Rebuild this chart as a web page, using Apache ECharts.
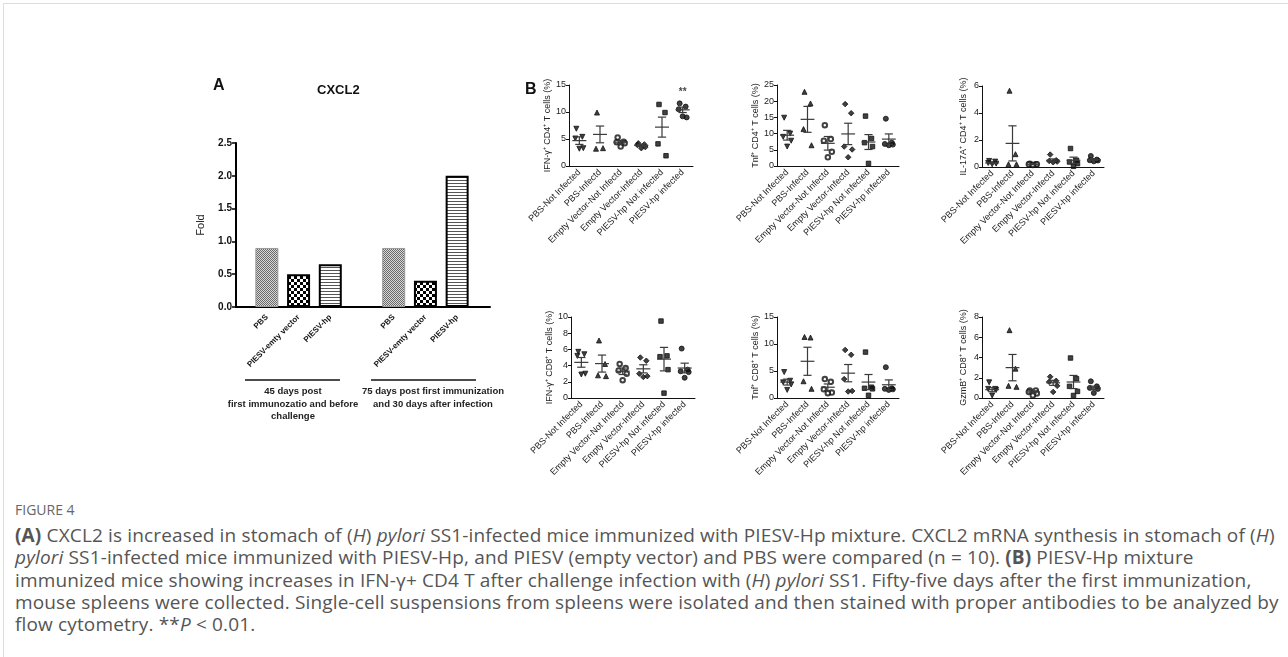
<!DOCTYPE html>
<html>
<head>
<meta charset="utf-8">
<script src="https://cdn.jsdelivr.net/npm/echarts@6/dist/echarts.min.js"></script>
<style>
  body { margin: 0; background: #fff; }
  #frame { position: absolute; left: 3px; top: 3px; width: 1290px; height: 660px; border-left: 1px solid #ddd; border-top: 1px solid #ddd; }
  #chart { position: absolute; left: 0; top: 0; width: 1288px; height: 495px; }
  #caption { position: absolute; left: 15px; top: 502px; width: 1268px; color: #555; font-family: "Open Sans", sans-serif; }
  #caption .fig { font-size: 14px; color: #666; line-height: 16px; }
  #caption .txt { font-size: 19px; letter-spacing: 0.15px; line-height: 22.3px; white-space: nowrap; margin-top: 6px; }
</style>
</head>
<body>
<div id="frame"></div>
<div id="chart"></div>
<div id="caption">
  <div class="fig">FIGURE 4</div>
  <div class="txt"><b>(A)</b> CXCL2 is increased in stomach of (<i>H</i>) <i>pylori</i> SS1-infected mice immunized with PIESV-Hp mixture. CXCL2 mRNA synthesis in stomach of (<i>H</i>)<br>
  <i>pylori</i> SS1-infected mice immunized with PIESV-Hp, and PIESV (empty vector) and PBS were compared (n = 10). <b>(B)</b> PIESV-Hp mixture<br>
  immunized mice showing increases in IFN-γ+ CD4 T after challenge infection with (<i>H</i>) <i>pylori</i> SS1. Fifty-five days after the first immunization,<br>
  mouse spleens were collected. Single-cell suspensions from spleens were isolated and then stained with proper antibodies to be analyzed by<br>
  flow cytometry. **<i>P</i> &lt; 0.01.</div>
</div>
<script>
// panel A data
var treatmentsA = ['PBS', 'PIESV-emty vector', 'PIESV-hp'];
var fold45 = [0.9, 0.5, 0.65];
var fold75 = [0.9, 0.4, 2.0];

// panel B data
var groupsB = ['PBS-Not Infected', 'PBS-Infectd', 'Empty Vector-Not Infectd', 'Empty Vector-Infectd', 'PIESV-hp Not infected', 'PIESV-hp infected'];

var ifngCd4 = [[6.9, 5.4, 5.1, 3.3, 3.2], [9.9, 3.3, 3.2], [5.3, 4.5, 4.4, 4.2, 3.6], [4.2, 4.0, 3.9, 3.5, 3.3], [11.4, 9.9, 4.1, 1.9], [11.6, 11.0, 10.5, 9.0, 9.2]];
var ifngCd4Mean = [4.7, 5.85, 4.4, 3.8, 7.2, 10.4];
var ifngCd4Sem = [0.7, 1.55, 0.3, 0.2, 1.85, 0.5];

var tnfCd4 = [[14.9, 10.0, 9.0, 7.8, 6.0], [22.9, 19.3, 11.4, 6.4], [12.6, 8.3, 7.8, 4.4, 2.7], [19.1, 16.3, 6.0, 5.1, 2.7], [15.4, 8.5, 7.2, 6.0, 0.8], [14.6, 7.2, 6.8, 6.6, 6.4]];
var tnfCd4Mean = [9.5, 14.4, 7.0, 9.9, 7.4, 8.3];
var tnfCd4Sem = [1.5, 4.0, 2.1, 3.3, 2.3, 1.6];

var il17Cd4 = [[0.45, 0.4, 0.3, 0.25, 0.2], [5.65, 0.95, 0.2, 0.2], [0.25, 0.2, 0.2, 0.2, 0.15], [0.92, 0.5, 0.45, 0.4, 0.35], [1.37, 0.5, 0.37, 0.25, 0.05], [0.82, 0.55, 0.5, 0.48, 0.42]];
var il17Cd4Mean = [0.3, 1.75, 0.2, 0.5, 0.5, 0.55];
var il17Cd4Sem = [0.05, 1.3, 0.02, 0.1, 0.23, 0.07];

var ifngCd8 = [[5.7, 5.4, 5.2, 3.0, 2.9], [7.1, 4.2, 2.8, 2.7], [4.2, 3.7, 3.4, 3.0, 2.2], [5.0, 4.6, 3.0, 2.7, 2.6], [9.5, 5.2, 5.1, 3.5, 0.6], [6.1, 3.5, 3.3, 3.2, 2.5]];
var ifngCd8Mean = [4.4, 4.25, 3.3, 3.6, 4.8, 3.7];
var ifngCd8Sem = [0.6, 1.05, 0.4, 0.5, 1.45, 0.6];

var tnfCd8 = [[4.8, 3.2, 2.9, 2.5, 1.5], [11.3, 11.2, 3.1, 1.7], [3.5, 3.0, 1.6, 1.0, 0.9], [8.9, 8.0, 3.5, 1.3, 1.2], [8.5, 2.0, 1.8, 1.7, 0.5], [5.7, 1.8, 1.7, 1.6, 1.5]];
var tnfCd8Mean = [2.95, 6.8, 2.0, 4.6, 2.95, 2.45];
var tnfCd8Sem = [0.55, 2.6, 0.6, 1.6, 1.4, 0.9];

var gzmbCd8 = [[1.55, 0.9, 0.9, 0.8, 0.25], [6.7, 2.9, 1.2, 1.1], [0.75, 0.75, 0.6, 0.45, 0.25], [2.1, 1.7, 1.6, 1.2, 0.6], [3.95, 1.9, 1.15, 0.65, 0.25], [1.65, 1.15, 1.0, 0.9, 0.5]];
var gzmbCd8Mean = [0.82, 3.0, 0.6, 1.5, 1.58, 1.0];
var gzmbCd8Sem = [0.2, 1.3, 0.1, 0.25, 0.65, 0.17];

// ** over PIESV-hp infected in IFN-g CD4
var sigMark = [[5, 13.6]];

var chart = echarts.init(document.getElementById('chart'));
var FONT = 'Liberation Sans';

// fill patterns
function pattern(w, h, draw) {
    var c = document.createElement('canvas');
    c.width = w; c.height = h;
    draw(c.getContext('2d'));
    return {image: c, repeat: 'repeat'};
}
var fillPbs = pattern(2, 2, function (g) {
    g.fillStyle = '#d8d8d8'; g.fillRect(0, 0, 2, 2);
    g.fillStyle = '#6a6a6a'; g.fillRect(0, 0, 1, 1); g.fillRect(1, 1, 1, 1);
});
var fillVector = pattern(6, 6, function (g) {
    g.fillStyle = '#fff'; g.fillRect(0, 0, 6, 6);
    g.fillStyle = '#000'; g.fillRect(0, 0, 3, 3); g.fillRect(3, 3, 3, 3);
});
var fillHp = pattern(1, 3, function (g) {
    g.fillStyle = '#fff'; g.fillRect(0, 0, 1, 3);
    g.fillStyle = '#555'; g.fillRect(0, 0, 1, 1);
});
var fillsA = [
    {color: fillPbs, borderColor: '#999', borderWidth: 1},
    {color: fillVector, borderColor: '#000', borderWidth: 2},
    {color: fillHp, borderColor: '#000', borderWidth: 2}
];

var catsA = treatmentsA.concat([''], treatmentsA);
var valsA = fold45.concat([null], fold75);
var barData = valsA.map(function (v, i) {
    return {value: v, itemStyle: fillsA[i % 4 === 3 ? 0 : (i > 3 ? i - 4 : i)]};
});

// panel B layout
var panels = [
    {pts: ifngCd4, mean: ifngCd4Mean, sem: ifngCd4Sem, max: 15, step: 5, name: 'IFN-γ⁺ CD4⁺ T cells (%)', left: 569, top: 85, width: 124},
    {pts: tnfCd4, mean: tnfCd4Mean, sem: tnfCd4Sem, max: 25, step: 5, name: 'Tnf⁺ CD4⁺ T cells (%)', left: 777, top: 85, width: 122},
    {pts: il17Cd4, mean: il17Cd4Mean, sem: il17Cd4Sem, max: 6, step: 2, name: 'IL-17A⁺ CD4⁺ T cells (%)', left: 982, top: 86, width: 122},
    {pts: ifngCd8, mean: ifngCd8Mean, sem: ifngCd8Sem, max: 10, step: 2, name: 'IFN-γ⁺ CD8⁺ T cells (%)', left: 571, top: 317, width: 124},
    {pts: tnfCd8, mean: tnfCd8Mean, sem: tnfCd8Sem, max: 15, step: 5, name: 'Tnf⁺ CD8⁺ T cells (%)', left: 777, top: 317, width: 122},
    {pts: gzmbCd8, mean: gzmbCd8Mean, sem: gzmbCd8Sem, max: 8, step: 2, name: 'GzmB⁺ CD8⁺ T cells (%)', left: 982, top: 317, width: 122}
];
var symbolsB = [
    {symbol: 'triangle', rotate: 180, size: 5},
    {symbol: 'triangle', rotate: 0, size: 5},
    {symbol: 'emptyCircle', rotate: 0, size: 4.5},
    {symbol: 'diamond', rotate: 0, size: 5.5},
    {symbol: 'rect', rotate: 0, size: 4.5},
    {symbol: 'circle', rotate: 0, size: 5}
];
var jitter = [-3, 3, -4, 4, 0];

function meanSemItem(params, api) {
    var x = api.value(0), m = api.value(1), s = api.value(2);
    var c = api.coord([x, m]);
    var top = api.coord([x, m + s]);
    var bot = api.coord([x, m - s]);
    var w = api.size([1, 0])[0];
    var st = {stroke: '#3a3a3a', lineWidth: 1.2};
    return {type: 'group', children: [
        {type: 'line', shape: {x1: c[0] - w * 0.34, y1: c[1], x2: c[0] + w * 0.34, y2: c[1]}, style: st},
        {type: 'line', shape: {x1: c[0], y1: top[1], x2: c[0], y2: bot[1]}, style: st},
        {type: 'line', shape: {x1: c[0] - w * 0.2, y1: top[1], x2: c[0] + w * 0.2, y2: top[1]}, style: st},
        {type: 'line', shape: {x1: c[0] - w * 0.2, y1: bot[1], x2: c[0] + w * 0.2, y2: bot[1]}, style: st}
    ]};
}

var grids = [
    {left: 236, top: 143, width: 254, height: 164},
    {left: 251, top: 143, width: 222, height: 164}
];
var xAxes = [
    {gridIndex: 0, type: 'value', min: 0, max: 1, axisLabel: {show: false}, axisTick: {show: false}, splitLine: {show: false},
     axisLine: {lineStyle: {color: '#000', width: 2}}},
    {gridIndex: 1, type: 'category', data: catsA, axisLine: {show: false}, axisTick: {show: false},
     axisLabel: {rotate: 45, fontSize: 8, fontWeight: 'bold', fontFamily: FONT, color: '#111', margin: 9, interval: 0}}
];
var yAxes = [
    {gridIndex: 0, type: 'value', min: 0, max: 2.5, interval: 0.5, name: 'Fold', nameLocation: 'middle', nameGap: 30,
     nameTextStyle: {fontSize: 11, fontFamily: FONT, color: '#222'},
     axisLine: {show: true, lineStyle: {color: '#000', width: 2}},
     axisTick: {show: true, length: 4, lineStyle: {color: '#000', width: 1.5}},
     axisLabel: {fontSize: 10, fontWeight: 'bold', fontFamily: FONT, color: '#111', margin: 4, formatter: function (v) { return v.toFixed(1); }},
     splitLine: {show: false}},
    {gridIndex: 1, type: 'value', min: 0, max: 2.5, show: false}
];
var series = [
    {type: 'bar', xAxisIndex: 1, yAxisIndex: 1, barWidth: 23, data: barData, silent: true}
];

panels.forEach(function (p, k) {
    var gi = k + 2;
    grids.push({left: p.left, top: p.top, width: p.width, height: 81});
    xAxes.push({gridIndex: gi, type: 'category', data: groupsB,
        axisLine: {lineStyle: {color: '#111', width: 1}},
        axisTick: {alignWithLabel: true, length: 3, lineStyle: {color: '#111'}},
        axisLabel: {rotate: 45, fontSize: 9, fontFamily: FONT, color: '#222', margin: 5, interval: 0}});
    yAxes.push({gridIndex: gi, type: 'value', min: 0, max: p.max, interval: p.step,
        name: p.name, nameLocation: 'middle', nameGap: 14,
        nameTextStyle: {fontSize: 9, fontFamily: FONT, color: '#222'},
        axisLine: {show: true, lineStyle: {color: '#111', width: 1}},
        axisTick: {show: true, length: 3, lineStyle: {color: '#111'}},
        axisLabel: {fontSize: 9, fontFamily: FONT, color: '#222', margin: 3},
        splitLine: {show: false}});
    var pts = [];
    p.pts.forEach(function (grp, g) {
        var sym = symbolsB[g];
        grp.forEach(function (v, j) {
            pts.push({value: [g, v], symbol: sym.symbol, symbolRotate: sym.rotate, symbolSize: sym.size,
                symbolOffset: [jitter[j], 0]});
        });
    });
    series.push({type: 'scatter', xAxisIndex: gi, yAxisIndex: gi, data: pts, silent: true,
        itemStyle: {color: '#111', borderColor: '#111', borderWidth: 1}});
    series.push({type: 'custom', xAxisIndex: gi, yAxisIndex: gi, renderItem: meanSemItem, silent: true, z: 3,
        data: p.mean.map(function (m, g) { return [g, m, p.sem[g]]; })});
});

series.push({type: 'scatter', xAxisIndex: 2, yAxisIndex: 2, data: sigMark, symbolSize: 0, silent: true,
    label: {show: true, formatter: '**', position: 'inside', fontSize: 10, fontWeight: 'bold', color: '#111', fontFamily: FONT}});

var boldTxt = {fontFamily: FONT, fontWeight: 'bold', fontSize: 9.5, fill: '#222', textAlign: 'center'};
var option = {
    animation: false,
    grid: grids,
    xAxis: xAxes,
    yAxis: yAxes,
    series: series,
    graphic: [
        {type: 'text', left: 213, top: 78, style: {text: 'A', fontFamily: FONT, fontWeight: 'bold', fontSize: 16, fill: '#111'}},
        {type: 'text', left: 317, top: 84, style: {text: 'CXCL2', fontFamily: FONT, fontWeight: 'bold', fontSize: 13, fill: '#111'}},
        {type: 'text', left: 525, top: 82, style: {text: 'B', fontFamily: FONT, fontWeight: 'bold', fontSize: 16, fill: '#111'}},
        {type: 'line', shape: {x1: 245, y1: 380, x2: 340, y2: 380}, style: {stroke: '#111', lineWidth: 1.5}},
        {type: 'line', shape: {x1: 371, y1: 380, x2: 476, y2: 380}, style: {stroke: '#111', lineWidth: 1.5}},
        {type: 'text', x: 293, y: 385, style: Object.assign({text: '45 days post\nfirst immunozatio and before\nchallenge', lineHeight: 12.7}, boldTxt)},
        {type: 'text', x: 433, y: 385, style: Object.assign({text: '75 days post first immunization\nand 30 days after infection', lineHeight: 12.7}, boldTxt)}
    ]
};
chart.setOption(option);
</script>
</body>
</html>
